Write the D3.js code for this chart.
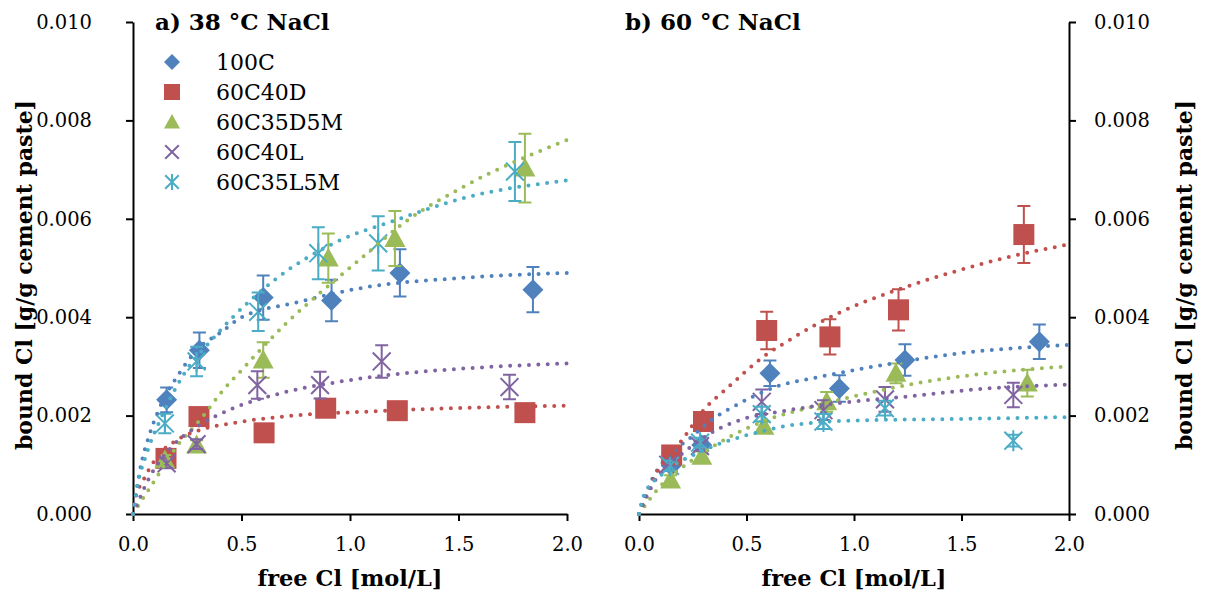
<!DOCTYPE html>
<html>
<head>
<meta charset="utf-8">
<script src="https://cdn.jsdelivr.net/npm/d3@7"></script>
<style>
body { margin: 0; background: #fff; }
text { font-family: "DejaVu Serif", serif; fill: #000; }
</style>
</head>
<body>
<div id="chart"></div>
<script>
// series
var seriesNames = ["100C", "60C40D", "60C35D5M", "60C40L", "60C35L5M"];
var seriesColors = ["#4F81BD", "#C0504D", "#9BBB59", "#8064A2", "#4BACC6"];
var seriesShapes = ["diamond", "square", "triangle", "cross", "star"];

var xTicks = [0, 0.5, 1.0, 1.5, 2.0];
var yTicks = [0, 0.002, 0.004, 0.006, 0.008, 0.010];

// a) 38 °C NaCl
var aX = [
    [0.155, 0.306, 0.600, 0.915, 1.230, 1.843],
    [0.152, 0.304, 0.604, 0.888, 1.218, 1.806],
    [0.147, 0.293, 0.600, 0.900, 1.207, 1.806],
    [0.155, 0.293, 0.573, 0.862, 1.146, 1.735],
    [0.147, 0.293, 0.577, 0.854, 1.130, 1.760]
];
var aY = [
    [0.00232, 0.00333, 0.00440, 0.00434, 0.00490, 0.00456],
    [0.00113, 0.00198, 0.00165, 0.00215, 0.00210, 0.00206],
    [0.00110, 0.00140, 0.00313, 0.00520, 0.00560, 0.00703],
    [0.00103, 0.00142, 0.00262, 0.00262, 0.00310, 0.00258],
    [0.00184, 0.00310, 0.00411, 0.00530, 0.00550, 0.00696]
];
var aErr = [
    [0.00025, 0.00036, 0.00045, 0.00042, 0.00048, 0.00046],
    [0.0001, 0.0001, 0.0001, 0.0001, 0.0001, 0.0001],
    [0.0001, 0.0001, 0.00036, 0.00050, 0.00056, 0.00070],
    [0.0001, 0.0001, 0.00028, 0.00027, 0.00033, 0.00025],
    [0.00020, 0.00030, 0.00039, 0.00053, 0.00055, 0.00060]
];
// trendlines
var aFitX = [
    [0, 0.032, 0.078, 0.132, 0.209, 0.293, 0.408, 0.493, 0.754, 1.061, 1.522, 2.0],
    [0, 0.009, 0.048, 0.124, 0.201, 0.309, 0.462, 0.770, 1.076, 1.538, 2.0],
    [0, 0.017, 0.101, 0.201, 0.309, 0.416, 0.508, 0.600, 0.707, 0.877, 1.061, 1.246, 1.522, 2.0],
    [0, 0.078, 0.186, 0.309, 0.462, 0.677, 0.954, 1.230, 1.538, 2.0],
    [0, 0.017, 0.063, 0.124, 0.247, 0.355, 0.462, 0.662, 0.938, 1.215, 1.522, 2.0]
];
var aFitY = [
    [0, 0.00089, 0.00164, 0.00225, 0.00283, 0.00333, 0.00370, 0.00398, 0.00430, 0.00460, 0.00480, 0.00490],
    [0, 0.00028, 0.00069, 0.00123, 0.00150, 0.00171, 0.00185, 0.00201, 0.00208, 0.00216, 0.00220],
    [0, 0.00012, 0.00069, 0.00137, 0.00191, 0.00252, 0.00296, 0.00340, 0.00388, 0.00455, 0.00523, 0.00591, 0.00665, 0.00760],
    [0, 0.00076, 0.00140, 0.00181, 0.00215, 0.00245, 0.00269, 0.00285, 0.00296, 0.00306],
    [0, 0.00049, 0.00123, 0.00190, 0.00293, 0.00350, 0.00401, 0.00479, 0.00553, 0.00598, 0.00642, 0.00678]
];

// b) 60 °C NaCl
var bX = [
    [0.150, 0.292, 0.609, 0.932, 1.237, 1.862],
    [0.152, 0.300, 0.594, 0.888, 1.207, 1.790],
    [0.147, 0.292, 0.581, 0.873, 1.195, 1.806],
    [0.136, 0.284, 0.571, 0.858, 1.144, 1.741],
    [0.144, 0.284, 0.571, 0.858, 1.144, 1.741]
];
var bY = [
    [0.00098, 0.00140, 0.00286, 0.00255, 0.00313, 0.00350],
    [0.00120, 0.00188, 0.00373, 0.00360, 0.00415, 0.00568],
    [0.00069, 0.00117, 0.00178, 0.00228, 0.00286, 0.00266],
    [0.00100, 0.00138, 0.00228, 0.00211, 0.00233, 0.00242],
    [0.00098, 0.00145, 0.00203, 0.00188, 0.00215, 0.00149]
];
var bErr = [
    [0.0001, 0.0001, 0.00026, 0.00027, 0.00032, 0.00035],
    [0.0001, 0.0001, 0.00038, 0.00036, 0.00042, 0.00058],
    [0.0001, 0.0001, 0.0001, 0.00020, 0.00020, 0.00027],
    [0.0001, 0.0001, 0.00025, 0.00020, 0.00025, 0.00025],
    [0.0001, 0.0001, 0.00015, 0.00015, 0.00015, 0.00012]
];
var bFitX = [
    [0, 0.059, 0.144, 0.245, 0.346, 0.439, 0.640, 0.842, 1.137, 1.462, 2.0],
    [0, 0.098, 0.200, 0.300, 0.408, 0.586, 0.671, 0.950, 1.198, 1.462, 1.726, 2.0],
    [0, 0.098, 0.237, 0.423, 0.594, 0.780, 1.028, 1.307, 1.617, 2.0],
    [0, 0.067, 0.222, 0.361, 0.470, 0.656, 0.920, 1.230, 1.617, 2.0],
    [0, 0.020, 0.113, 0.268, 0.423, 0.563, 0.687, 0.997, 1.462, 2.0]
];
var bFitY = [
    [0, 0.00069, 0.00120, 0.00157, 0.00194, 0.00218, 0.00259, 0.00279, 0.00303, 0.00325, 0.00344],
    [0, 0.00096, 0.00150, 0.00211, 0.00255, 0.00322, 0.00346, 0.00413, 0.00455, 0.00492, 0.00523, 0.00548],
    [0, 0.00056, 0.00106, 0.00157, 0.00191, 0.00215, 0.00242, 0.00267, 0.00286, 0.00300],
    [0, 0.00062, 0.00130, 0.00171, 0.00191, 0.00208, 0.00225, 0.00238, 0.00255, 0.00263],
    [0, 0.00035, 0.00083, 0.00123, 0.00150, 0.00167, 0.00179, 0.00190, 0.00193, 0.00197]
];

var width = 1205, height = 598;
var svg = d3.select("#chart").append("svg")
    .attr("width", width)
    .attr("height", height);

var y = d3.scaleLinear().domain([0, 0.010]).range([514, 22]);

function drawMarker(g, shape, s, color) {
    var h = s / 2;
    if (shape === "diamond") {
        g.append("path").attr("d", `M0,${-h}L${h},0L0,${h}L${-h},0Z`).attr("fill", color);
    } else if (shape === "square") {
        g.append("rect").attr("x", -h).attr("y", -h).attr("width", s).attr("height", s).attr("fill", color);
    } else if (shape === "triangle") {
        g.append("path").attr("d", `M0,${-h}L${h},${h * 0.8}L${-h},${h * 0.8}Z`).attr("fill", color);
    } else {
        var k = h * 0.85;
        var p = `M${-k},${-k}L${k},${k}M${k},${-k}L${-k},${k}`;
        if (shape === "star") p += `M0,${-h}L0,${h}`;
        g.append("path").attr("d", p).attr("stroke", color).attr("stroke-width", 2).attr("fill", "none");
    }
}

function drawPanel(cfg) {
    var x = d3.scaleLinear().domain([0, 2]).range([cfg.x0, cfg.x1]);
    var g = svg.append("g");

    // x axis
    var xAxis = g.append("g")
        .attr("transform", `translate(0,${y(0)})`)
        .call(d3.axisBottom(x).tickValues(xTicks).tickSize(7).tickSizeOuter(0).tickPadding(16)
            .tickFormat(d3.format(".1f")));

    // y axis
    var yAx = cfg.side === "left"
        ? d3.axisLeft(y).tickPadding(34)
        : d3.axisRight(y).tickPadding(18);
    var yAxis = g.append("g")
        .attr("transform", `translate(${cfg.side === "left" ? cfg.x0 : cfg.x1},0)`)
        .call(yAx.tickValues(yTicks).tickSize(7).tickSizeOuter(0).tickFormat(d3.format(".3f")));

    [xAxis, yAxis].forEach(function (a) {
        a.select(".domain").attr("stroke", "#000").attr("stroke-width", 2);
        a.selectAll(".tick line").attr("stroke", "#000").attr("stroke-width", 2);
        a.selectAll(".tick text").attr("font-family", "DejaVu Serif").attr("font-size", 19.5).attr("fill", "#000");
    });

    // points with error bars
    seriesNames.forEach(function (name, i) {
        var c = seriesColors[i];
        var sg = g.append("g");
        cfg.xs[i].forEach(function (xv, j) {
            var cx = x(xv), cy = y(cfg.ys[i][j]), e = cfg.errs[i][j];
            var top = y(cfg.ys[i][j] + e), bot = y(cfg.ys[i][j] - e);
            sg.append("path")
                .attr("d", `M${cx},${top}L${cx},${bot}M${cx - 6.5},${top}L${cx + 6.5},${top}M${cx - 6.5},${bot}L${cx + 6.5},${bot}`)
                .attr("stroke", c).attr("stroke-width", 2).attr("fill", "none");
            var mg = sg.append("g").attr("transform", `translate(${cx},${cy})`);
            drawMarker(mg, seriesShapes[i], 21, c);
        });
    });

    // dotted trendlines
    var line = d3.line()
        .x(function (d) { return x(d[0]); })
        .y(function (d) { return y(d[1]); })
        .curve(d3.curveMonotoneX);
    seriesNames.forEach(function (name, i) {
        var pts = cfg.fitX[i].map(function (v, j) { return [v, cfg.fitY[i][j]]; });
        g.append("path")
            .attr("d", line(pts))
            .attr("fill", "none")
            .attr("stroke", seriesColors[i])
            .attr("stroke-width", 4)
            .attr("stroke-linecap", "round")
            .attr("stroke-dasharray", "0 9.4");
    });

    // title
    g.append("text")
        .attr("x", cfg.titleX).attr("y", 30)
        .attr("font-size", 23).attr("font-weight", "bold")
        .text(cfg.title);

    // axis titles
    g.append("text")
        .attr("x", (cfg.x0 + cfg.x1) / 2).attr("y", 586)
        .attr("text-anchor", "middle")
        .attr("font-size", 22).attr("font-weight", "bold")
        .attr("textLength", 185).attr("lengthAdjust", "spacingAndGlyphs")
        .text("free Cl [mol/L]");

    g.append("text")
        .attr("transform", `translate(${cfg.yLabelX},275)rotate(-90)`)
        .attr("text-anchor", "middle")
        .attr("dominant-baseline", "central")
        .attr("font-size", 22).attr("font-weight", "bold")
        .attr("textLength", 350).attr("lengthAdjust", "spacingAndGlyphs")
        .text("bound Cl [g/g cement paste]");
}

drawPanel({ x0: 133, x1: 567, side: "left", title: "a) 38 °C NaCl", titleX: 155, yLabelX: 24,
    xs: aX, ys: aY, errs: aErr, fitX: aFitX, fitY: aFitY });
drawPanel({ x0: 639, x1: 1069, side: "right", title: "b) 60 °C NaCl", titleX: 625, yLabelX: 1184,
    xs: bX, ys: bY, errs: bErr, fitX: bFitX, fitY: bFitY });

// legend
var legend = svg.append("g").attr("transform", "translate(172,62)");
seriesNames.forEach(function (name, i) {
    var row = legend.append("g").attr("transform", `translate(0,${i * 30})`);
    drawMarker(row, seriesShapes[i], 16, seriesColors[i]);
    row.append("text")
        .attr("x", 44).attr("y", 0)
        .attr("dominant-baseline", "central")
        .attr("font-size", 22)
        .text(name);
});
</script>
</body>
</html>
